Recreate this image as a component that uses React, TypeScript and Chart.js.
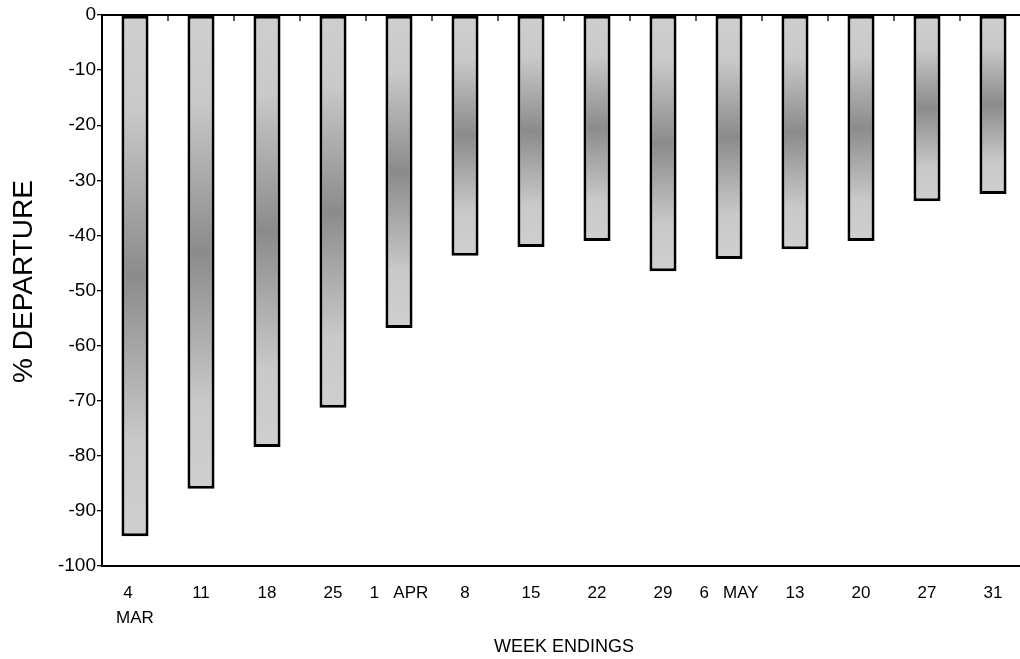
import React, { useEffect, useRef } from 'react';
import { Chart, registerables } from 'chart.js';

Chart.register(...registerables);

const categories: (string | string[])[] = [
  ['4   ', 'MAR'], '11', '18', '25', '1   APR', '8', '15', '22', '29', '6   MAY', '13', '20', '27', '31',
];
const departures = [-94.6, -86.0, -78.4, -71.3, -56.8, -43.7, -42.1, -41.0, -46.5, -44.3, -42.5, -41.0, -33.8, -32.5];
const yMin = -100;
const yMax = 0;
const yStep = 10;
const yTitle = '% DEPARTURE';
const xTitle = 'WEEK ENDINGS';

const FONT = "'Liberation Sans', Arial, Helvetica, sans-serif";

const topAxisPlugin = {
  id: 'topAxis',
  afterDatasetsDraw(chart: any) {
    const { ctx, chartArea, scales } = chart;
    const x = scales.x;
    const y0 = scales.y.getPixelForValue(0);
    ctx.save();
    ctx.strokeStyle = '#000';
    ctx.lineWidth = 2;
    ctx.beginPath();
    ctx.moveTo(chartArea.left, y0);
    ctx.lineTo(chartArea.right, y0);
    ctx.stroke();
    ctx.lineWidth = 1.3;
    for (let i = 1; i < categories.length; i++) {
      const px = (x.getPixelForValue(i - 1) + x.getPixelForValue(i)) / 2;
      ctx.beginPath();
      ctx.moveTo(px, y0);
      ctx.lineTo(px, y0 + 6);
      ctx.stroke();
    }
    // y axis title
    ctx.fillStyle = '#000';
    ctx.font = `28px ${FONT}`;
    ctx.textAlign = 'center';
    ctx.textBaseline = 'middle';
    ctx.translate(24, (chartArea.top + chartArea.bottom) / 2 - 9);
    ctx.rotate(-Math.PI / 2);
    ctx.fillText(yTitle, 0, 0);
    ctx.restore();
  },
};

export default function App() {
  const ref = useRef<HTMLCanvasElement | null>(null);

  useEffect(() => {
    if (!ref.current) return;
    const chart = new Chart(ref.current, {
      type: 'bar',
      data: {
        labels: categories as any,
        datasets: [
          {
            data: departures,
            backgroundColor: (ctx: any) => {
              const c = ctx.chart;
              if (!c.chartArea || ctx.dataIndex === undefined) return '#c8c8c8';
              const v = ctx.dataset.data[ctx.dataIndex];
              const ys = c.scales.y;
              const a = ys.getPixelForValue(0);
              const b = ys.getPixelForValue(v);
              const g = c.ctx.createLinearGradient(0, a, 0, b);
              g.addColorStop(0, '#cfcfcf');
              g.addColorStop(0.18, '#c9c9c9');
              g.addColorStop(0.5, '#8b8b8b');
              g.addColorStop(0.82, '#c9c9c9');
              g.addColorStop(1, '#cfcfcf');
              return g;
            },
            borderColor: '#000',
            borderWidth: 3,
            borderSkipped: false,
            barPercentage: 0.41,
            categoryPercentage: 1,
          },
        ],
      },
      options: {
        responsive: false,
        animation: false,
        devicePixelRatio: 1,
        layout: { padding: { top: 15, right: 14, left: 0, bottom: 0 } },
        plugins: { legend: { display: false }, tooltip: { enabled: false } },
        scales: {
          x: {
            grid: { display: false, drawTicks: false },
            border: { display: true, color: '#000', width: 2 },
            ticks: { color: '#000', font: { family: FONT, size: 17, lineHeight: 1.45 }, padding: 15, maxRotation: 0, autoSkip: false },
            title: { display: true, text: xTitle, color: '#000', font: { family: FONT, size: 18 }, padding: { top: 0, bottom: 1 } },
            afterFit: (s: any) => { s.height = 93; },
          },
          y: {
            min: yMin,
            max: yMax,
            grid: { drawOnChartArea: false, drawTicks: true, tickLength: 5, color: '#000', lineWidth: 1.3 },
            border: { display: true, color: '#000', width: 2 },
            ticks: { stepSize: yStep, color: '#000', font: { family: FONT, size: 19 }, padding: 1 },
            title: { display: false },
            afterFit: (s: any) => { s.width = 102; },
          },
        },
      },
      plugins: [topAxisPlugin],
    });
    return () => chart.destroy();
  }, []);

  return (
    <div style={{ position: 'fixed', left: 0, top: 0, width: 1020, height: 659, overflow: 'hidden', background: '#fff' }}>
      <canvas ref={ref} width={1040} height={659} style={{ width: 1040, height: 659, display: 'block' }} />
    </div>
  );
}
